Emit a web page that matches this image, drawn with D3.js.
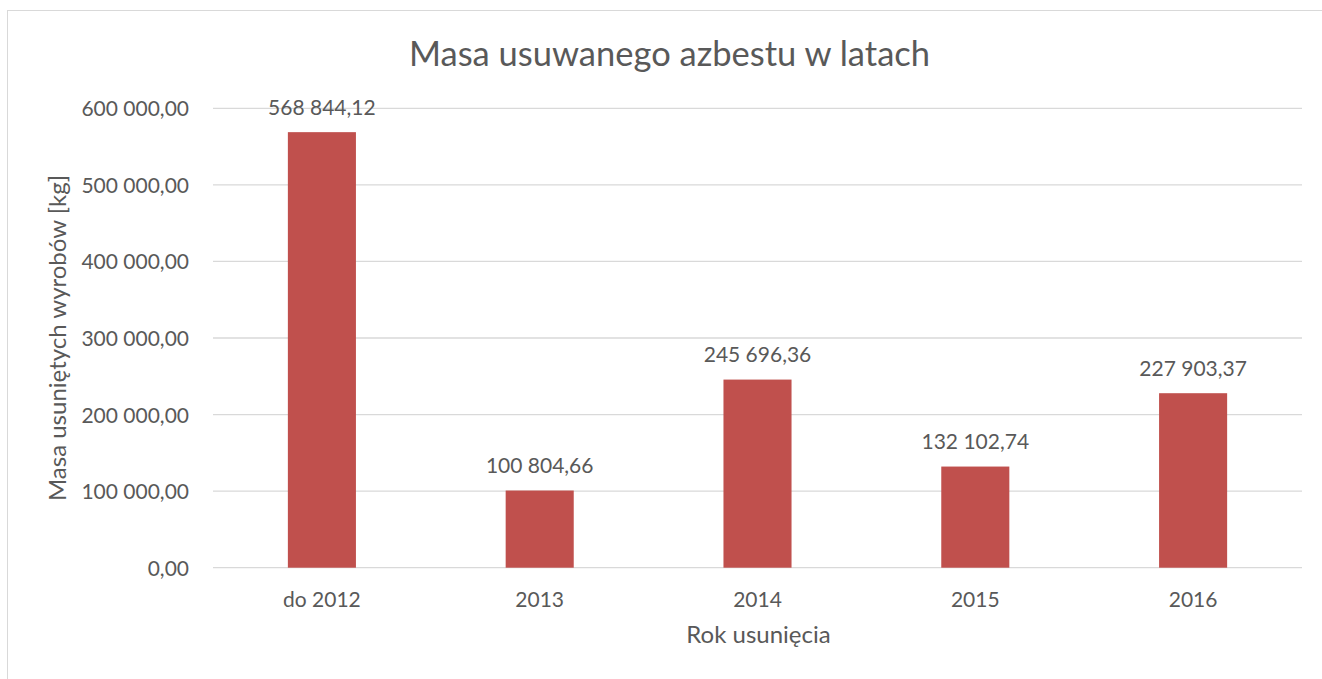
<!DOCTYPE html>
<html>
<head>
<meta charset="utf-8">
<script src="https://cdn.jsdelivr.net/npm/d3@7"></script>
<style>
  body { margin: 0; background: #fff; }
  svg { display: block; }
  text { font-family: Lato, "Open Sans", sans-serif; fill: #595959; }
</style>
</head>
<body>
<svg id="chart" width="1322" height="679"></svg>
<script>
// Mass of removed asbestos products per year
const categories = ["do 2012", "2013", "2014", "2015", "2016"];
const values = [568844.12, 100804.66, 245696.36, 132102.74, 227903.37];
const yTicks = [0, 100000, 200000, 300000, 400000, 500000, 600000];
const chartTitle = "Masa usuwanego azbestu w latach";
const xAxisTitle = "Rok usunięcia";
const yAxisTitle = "Masa usuniętych wyrobów [kg]";

const plLocale = d3.formatLocale({ decimal: ",", thousands: " ", grouping: [3], currency: ["", " zł"] });
const fmt = plLocale.format(",.2f");

const svg = d3.select("#chart");
const W = 1322, H = 679;
const plot = { left: 213, right: 1302, top: 108.3, bottom: 567.7 };

// outer chart frame
svg.append("rect")
  .attr("x", 7.5).attr("y", 10.5)
  .attr("width", W + 20).attr("height", H + 20)
  .attr("fill", "#fff").attr("stroke", "#d9d9d9").attr("stroke-width", 1);

const x = d3.scaleBand()
  .domain(categories)
  .range([plot.left, plot.right])
  .paddingInner(0.6875)
  .paddingOuter(0.34375);

const y = d3.scaleLinear()
  .domain([0, 600000])
  .range([plot.bottom, plot.top]);

// horizontal gridlines
svg.append("g")
  .selectAll("line")
  .data(yTicks)
  .join("line")
  .attr("x1", plot.left).attr("x2", plot.right)
  .attr("y1", d => y(d)).attr("y2", d => y(d))
  .attr("stroke", "#d9d9d9").attr("stroke-width", 1.3);

// y tick labels
svg.append("g")
  .selectAll("text")
  .data(yTicks)
  .join("text")
  .attr("x", 189)
  .attr("y", d => y(d) + 8)
  .attr("text-anchor", "end")
  .style("font-size", "21px")
  .text(d => fmt(d));

// bars
svg.append("g")
  .selectAll("rect")
  .data(values)
  .join("rect")
  .attr("x", (d, i) => x(categories[i]))
  .attr("width", x.bandwidth())
  .attr("y", d => y(d))
  .attr("height", d => y(0) - y(d))
  .attr("fill", "#c0504d");

// value labels
svg.append("g")
  .selectAll("text")
  .data(values)
  .join("text")
  .attr("x", (d, i) => x(categories[i]) + x.bandwidth() / 2)
  .attr("y", d => y(d) - 17.5)
  .attr("text-anchor", "middle")
  .style("font-size", "21px")
  .text(d => fmt(d));

// category labels
svg.append("g")
  .selectAll("text")
  .data(categories)
  .join("text")
  .attr("x", d => x(d) + x.bandwidth() / 2)
  .attr("y", plot.bottom + 39)
  .attr("text-anchor", "middle")
  .style("font-size", "21px")
  .text(d => d);

// titles
svg.append("text")
  .attr("x", 669.5).attr("y", 66)
  .attr("text-anchor", "middle")
  .style("font-size", "34.5px")
  .text(chartTitle);

svg.append("text")
  .attr("x", (plot.left + plot.right) / 2 + 1).attr("y", 643)
  .attr("text-anchor", "middle")
  .style("font-size", "24px")
  .text(xAxisTitle);

svg.append("text")
  .attr("transform", `translate(66, ${(plot.top + plot.bottom) / 2}) rotate(-90)`)
  .attr("text-anchor", "middle")
  .style("font-size", "24px")
  .text(yAxisTitle);
</script>
</body>
</html>
